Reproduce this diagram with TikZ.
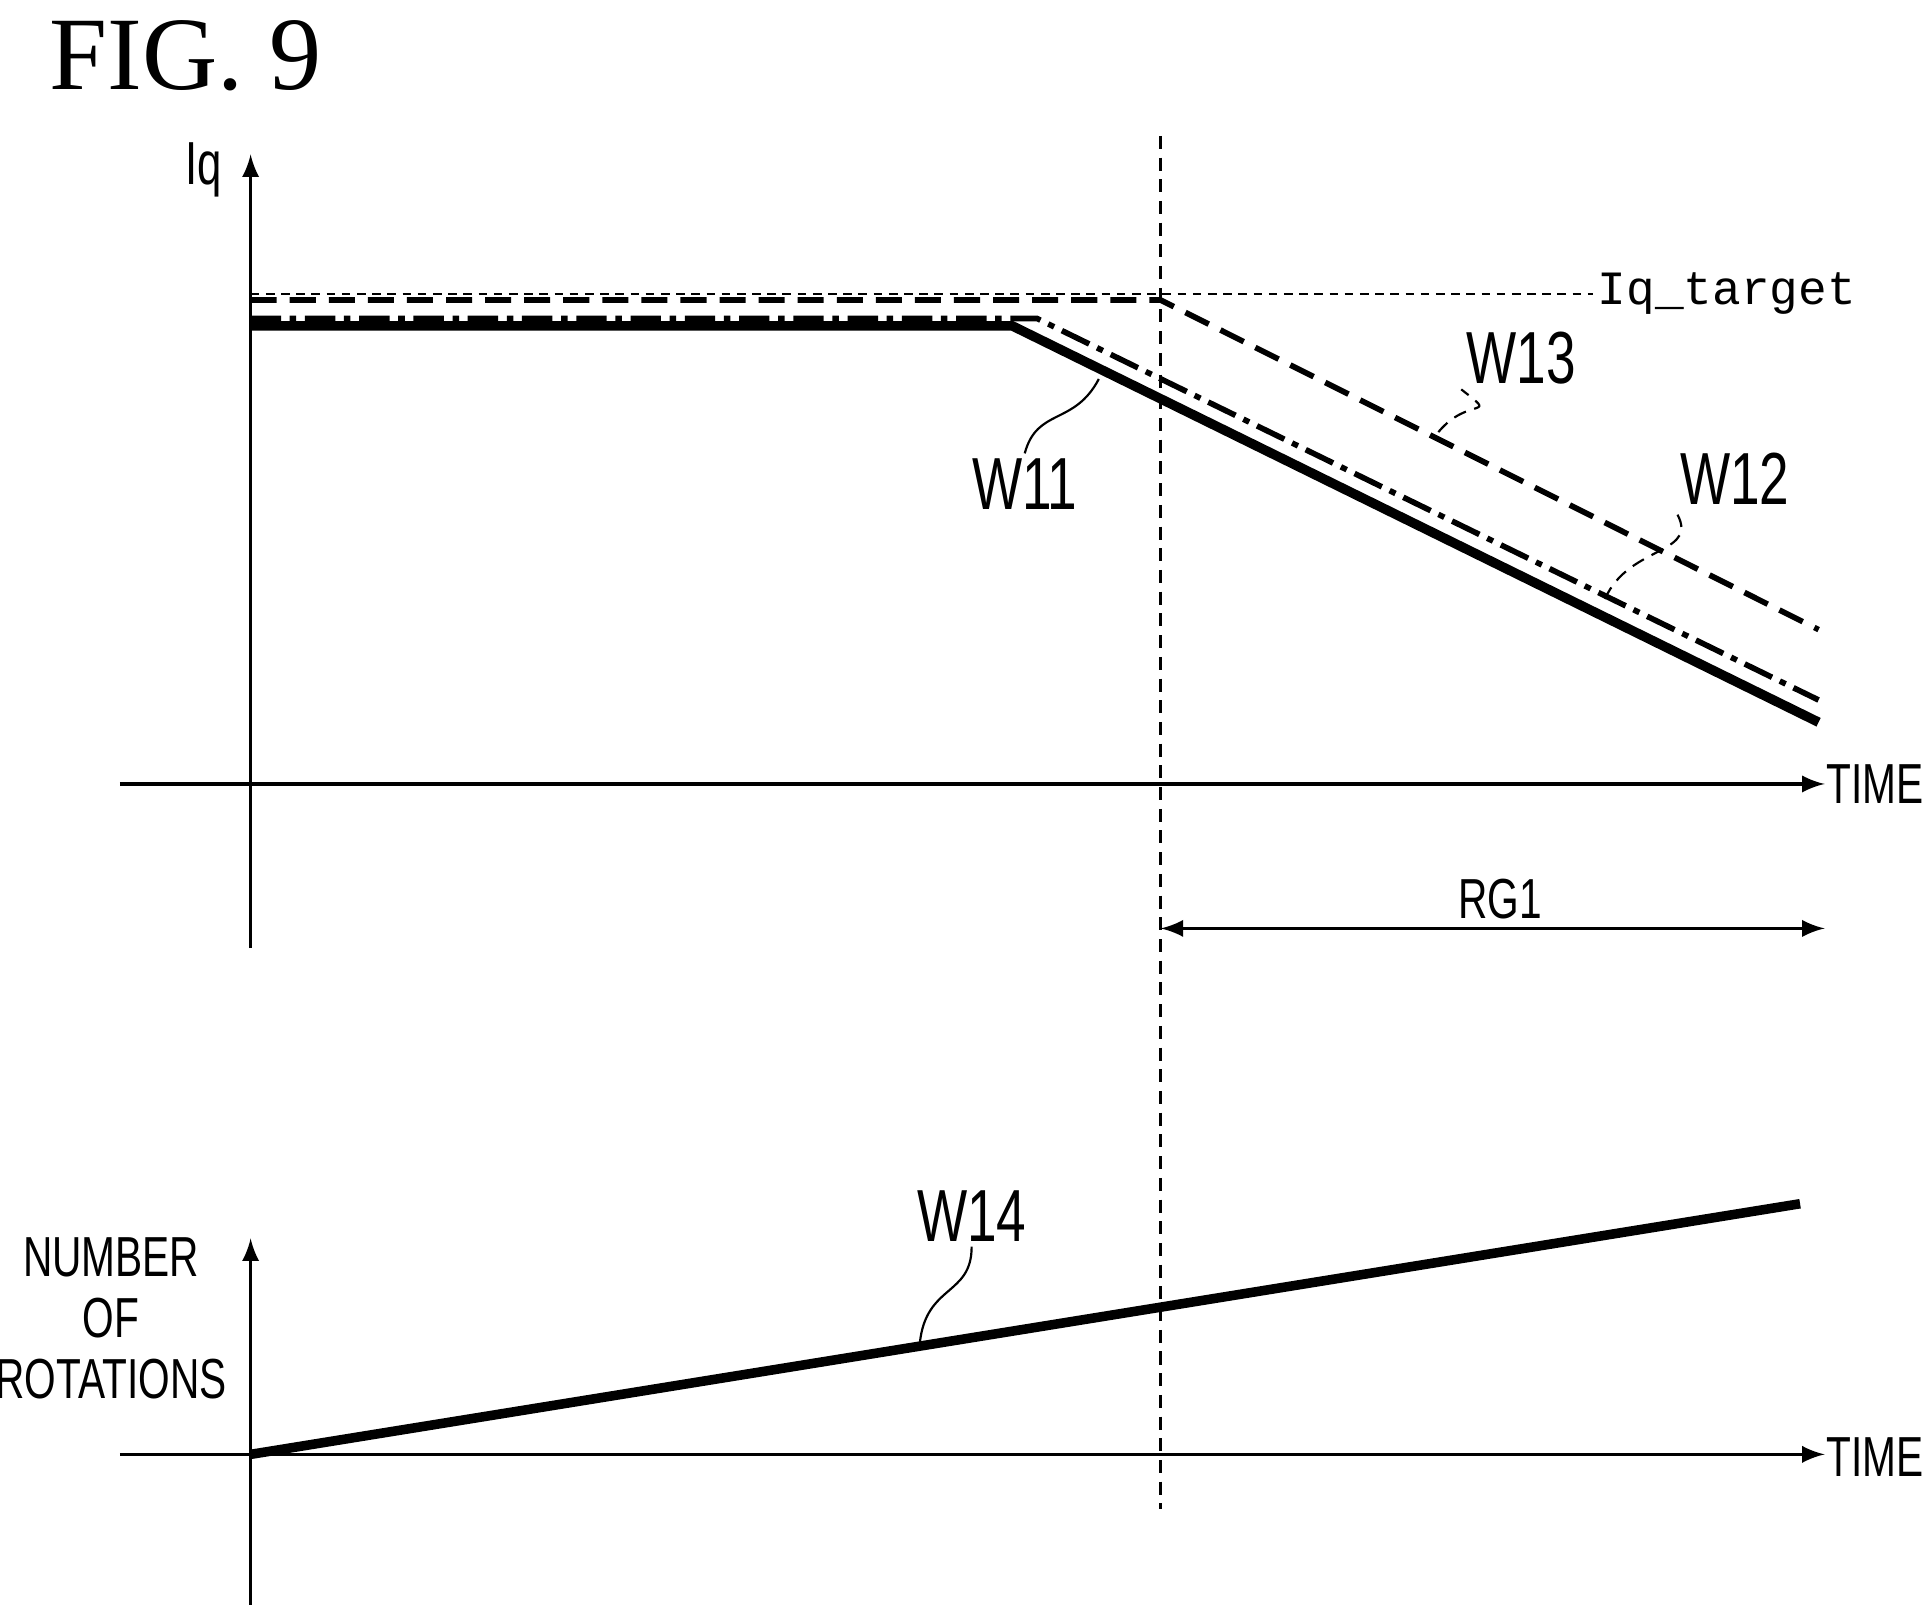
\documentclass[tikz,border=0pt]{standalone}
\usepackage{fontspec}
\setmainfont{Liberation Serif}
\setsansfont{Liberation Sans}[FakeStretch=0.72]
\setmonofont{Liberation Mono}
\usetikzlibrary{arrows}
\begin{document}
\begin{tikzpicture}[x=0.01cm,y=-0.01cm,
axis/.style={line width=0.8pt,-latex},
lbl/.style={font=\sffamily\fontsize{17}{19}\selectfont,inner sep=1pt},
small/.style={font=\sffamily\fontsize{13}{14}\selectfont,inner sep=1pt,align=center},
lead/.style={densely dashed,line width=0.5pt},
wave/.style={line width=2pt}
]
\useasboundingbox (0,0) rectangle (1560,1310);
\node[font=\fontsize{24}{26}\selectfont,anchor=west] (fig) at (28,45) {FIG. 9};
%-- upper chart
\coordinate (o1) at (203,635);
\coordinate (ytop) at (203,125);
\coordinate (ybot) at (203,768);
\draw[axis] (ybot) -- (ytop);
\coordinate (xl1) at (97,635);
\coordinate (xr1) at (1478,635);
\draw[axis] (xl1) -- (xr1);
\node[lbl,font=\sffamily\fontsize{14}{16}\selectfont] (iq) at (165,138) {Iq};
\node[small] (time1) at (1519,635) {TIME};
%-- boundary
\coordinate (vt) at (940,110);
\coordinate (vb) at (940,1222);
\draw[dashed,dash pattern=on 3pt off 2pt,line width=0.5pt] (vt) -- (vb);
%-- target
\coordinate (ta) at (203,238);
\node[font=\ttfamily\fontsize{11}{12}\selectfont,anchor=west,inner sep=1pt] (tgt) at (1290,238) {Iq\_target};
\draw[dash pattern=on 2pt off 1.5pt,line width=0.5pt] (ta) -- (tgt.west);
%-- curves
\coordinate (w13a) at (203,243);
\coordinate (w13b) at (940,243);
\coordinate (w13c) at (1473,510);
\draw[line width=1.3pt,dash pattern=on 6pt off 3pt] (w13a) -- (w13b) -- (w13c);
\coordinate (w12a) at (203,258);
\coordinate (w12b) at (840,258);
\coordinate (w12c) at (1473,567);
\draw[line width=1.3pt,dash pattern=on 7pt off 2pt on 1.5pt off 2pt] (w12a) -- (w12b) -- (w12c);
\coordinate (w11a) at (203,264);
\coordinate (w11b) at (820,264);
\coordinate (w11c) at (1473,585);
\draw[line width=2.2pt] (w11a) -- (w11b) -- (w11c);
%-- labels
\node[lbl] (l13) at (1232,290) {W13};
\coordinate (p13) at (1165,350);
\draw[lead] (p13) .. controls (1190,320) and (1215,340) .. (l13.south west);
\node[lbl] (l12) at (1405,388) {W12};
\coordinate (p12) at (1300,485);
\draw[lead] (p12) .. controls (1320,440) and (1380,450) .. (l12.south west);
\node[lbl] (l11) at (830,392) {W11};
\coordinate (p11) at (890,307);
\draw[line width=0.5pt] (p11) .. controls (870,345) and (840,330) .. (l11.north);
%-- range
\coordinate (ra) at (940,752);
\coordinate (rb) at (1478,752);
\draw[line width=0.8pt,latex-latex] (ra) -- (rb);
\node[small] (rg) at (1215,728) {RG1};
%-- lower chart
\coordinate (ybot2) at (203,1300);
\coordinate (ytop2) at (203,1003);
\draw[axis] (ybot2) -- (ytop2);
\coordinate (xl2) at (97,1178);
\coordinate (xr2) at (1478,1178);
\draw[axis] (xl2) -- (xr2);
\node[small] (time2) at (1519,1180) {TIME};
\node[small] (rot) at (90,1068) {NUMBER\\OF\\ROTATIONS};
\coordinate (w14a) at (203,1178);
\coordinate (w14b) at (1458,975);
\draw[line width=2.2pt] (w14a) -- (w14b);
\node[lbl] (l14) at (787,985) {W14};
\coordinate (p14) at (745,1088);
\draw[line width=0.5pt] (p14) .. controls (750,1040) and (787,1050) .. (l14.south);
\end{tikzpicture}
\end{document}
